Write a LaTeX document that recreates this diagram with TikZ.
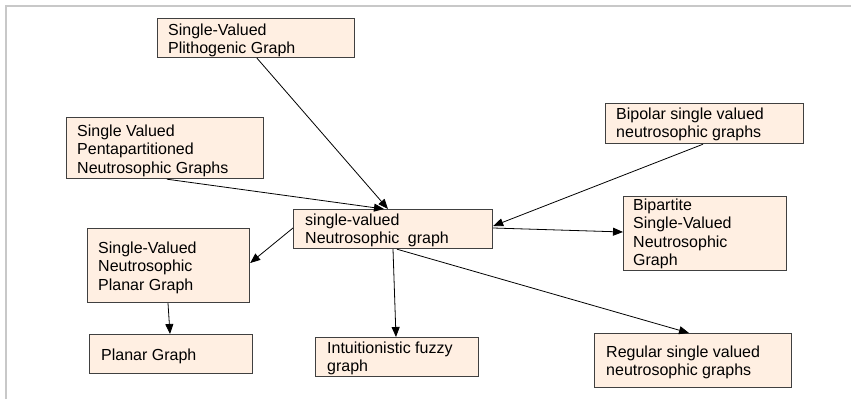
\documentclass[tikz,border=0pt]{standalone}
\usepackage{fontspec}
\setmainfont{Liberation Sans}
\usetikzlibrary{arrows.meta,calc}
\definecolor{boxfill}{RGB}{255,239,226}
\definecolor{boxline}{RGB}{64,64,64}
\definecolor{frameline}{RGB}{200,200,200}
\begin{document}
\begin{tikzpicture}[x=1pt,y=-1pt,
  box/.style={draw=boxline, line width=1.2pt, fill=boxfill, inner sep=0pt, anchor=north west},
  txt/.style={anchor=north west, inner sep=0pt, align=left, font=\fontsize{16}{18.4}\selectfont},
  conn/.style={draw=black, line width=0.8pt, -{Triangle[length=10pt,width=8pt]}}]
\useasboundingbox (0,0) rectangle (851,399);
\draw[frameline, line width=1.5pt] (6,399) -- (6,6) -- (851,6);
% boxes
\node[box, minimum width=197pt, minimum height=39pt] (b1) at (157,18) {};
\node[box, minimum width=197pt, minimum height=61pt] (b2) at (66,117) {};
\node[box, minimum width=198pt, minimum height=40pt] (bip) at (605,103) {};
\node[box, minimum width=199pt, minimum height=39pt] (c) at (293,209) {};
\node[box, minimum width=162pt, minimum height=74pt] (svp) at (87,228) {};
\node[box, minimum width=163pt, minimum height=39pt] (pg) at (89,334) {};
\node[box, minimum width=163pt, minimum height=39pt] (ig) at (315,337) {};
\node[box, minimum width=163pt, minimum height=74pt] (bp) at (623,196) {};
\node[box, minimum width=197pt, minimum height=54pt] (reg) at (594,333) {};
% texts
\node[txt] (t1) at (168,22.2) {\strut Single-Valued\\Plithogenic Graph};
\node[txt] (t2) at (77,123.2) {\strut Single Valued\\Pentapartitioned\\Neutrosophic Graphs};
\node[txt] (tbip) at (616,106.2) {\strut Bipolar single valued\\neutrosophic graphs};
\node[txt] (tc) at (305,212.2) {\strut single-valued\\Neutrosophic\hspace{4pt} graph};
\node[txt] (tsvp) at (98,240.2) {\strut Single-Valued\\Neutrosophic\\Planar Graph};
\node[txt] (tpg) at (101,347.2) {\strut Planar Graph};
\node[txt] (tig) at (327,340.2) {\strut Intuitionistic fuzzy\\graph};
\node[txt] (tbp) at (633,197.2) {\strut Bipartite\\Single-Valued\\Neutrosophic\\Graph};
\node[txt] (treg) at (606,344.2) {\strut Regular single valued\\neutrosophic graphs};
% connectors
\draw[conn] ([xshift=100pt]b1.south west) -- ([xshift=95pt]c.north west);
\draw[conn] ([xshift=101pt]b2.south west) -- ([xshift=91pt]c.north west);
\draw[conn] ([xshift=98pt]bip.south west) -- ([yshift=-17pt]c.north east);
\draw[conn] ([yshift=-19pt]c.north east) -- ([yshift=-36pt]bp.north west);
\draw[conn] ([yshift=-19pt]c.north west) -- ([yshift=-35pt]svp.north east);
\draw[conn] ([xshift=81pt]svp.south west) -- ([xshift=81pt]pg.north west);
\draw[conn] ([xshift=100pt]c.south west) -- ([xshift=81pt]ig.north west);
\draw[conn] ([xshift=104pt]c.south west) -- ([xshift=95pt]reg.north west);
\end{tikzpicture}
\end{document}
